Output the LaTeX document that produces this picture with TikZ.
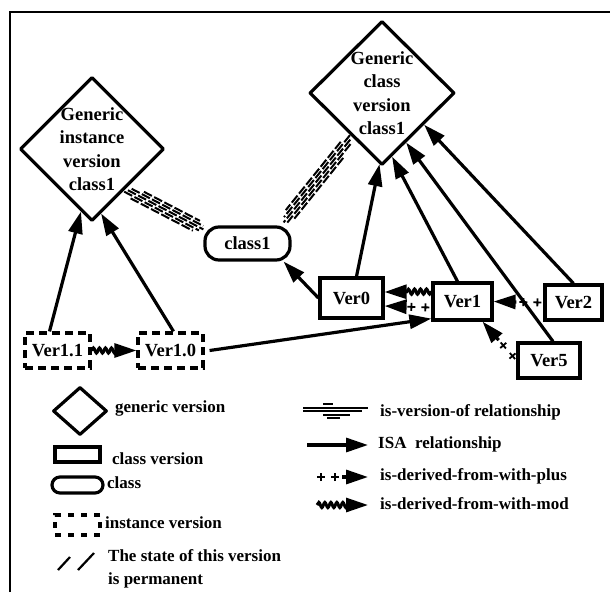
\documentclass[tikz,border=0pt]{standalone}
\usepackage{fontspec}
\setmainfont{Liberation Serif}
\usetikzlibrary{shapes.geometric,arrows.meta,calc,decorations.pathmorphing,decorations.markings}

% striped "is-version-of" band between two points
\newcommand\versionband[2]{%
  \foreach \off/\s/\e in {-6/0.1/0.9, -3/0.0/0.96, 0/0.03/1.0, 3/0.06/0.98, 6/0.2/0.92}{%
    \draw[bandline] ($($(#1)!\s!(#2)$)!\off pt!90:(#2)$) -- ($($(#1)!\e!(#2)$)!\off pt!-90:(#1)$);}}

% "+ +" derivation arrow: two plus marks near the source, a head at the target
\newcommand\plusderived[2]{%
  \path[plusmarks] (#1) -- (#2);
  \draw[isa, shorten <=27pt] (#1) -- (#2);}

\begin{document}
\begin{tikzpicture}[x=1pt,y=-1pt,
  nodetext/.style={font=\fontsize{18.5}{23.5}\selectfont\bfseries},
  legtext/.style={font=\fontsize{17}{23}\selectfont\bfseries, anchor=west, inner sep=0pt, align=left},
  gendiamond/.style={draw, shape=diamond, line width=3.2pt, line join=round, inner sep=0pt,
    minimum width=144pt, minimum height=144pt},
  classver/.style={draw, rectangle, line width=3.2pt, inner sep=0pt, nodetext},
  instver/.style={draw, rectangle, line width=3.2pt, dash pattern=on 8pt off 5pt, inner sep=0pt, nodetext},
  classbox/.style={draw, rectangle, rounded corners=14pt, line width=3.2pt, inner sep=0pt, nodetext},
  bigtip/.style={-{Triangle[length=22pt,width=14pt]}},
  isa/.style={line width=3.2pt, bigtip},
  modarrow/.style={line width=3pt, bigtip, decorate,
    decoration={snake, amplitude=2.6pt, segment length=6pt, post length=20pt}},
  plusmark/.style={line width=1.8pt},
  plusmarks/.style={postaction=decorate, decoration={markings,
    mark=at position 6pt with {\draw[plusmark] (-4pt,0pt) -- (4pt,0pt) (0pt,-4pt) -- (0pt,4pt);},
    mark=at position 20pt with {\draw[plusmark] (-4pt,0pt) -- (4pt,0pt) (0pt,-4pt) -- (0pt,4pt);}}},
  bandline/.style={line width=2pt, dash pattern=on 9pt off 2.5pt}
]
\path[use as bounding box] (0,0) rectangle (610,592);

% frame
\draw[line width=2.4pt] (10,592) -- (10,12) -- (610,12);

% generic versions
\node[gendiamond, label={[nodetext, align=center]center:{Generic\\instance\\version\\class1}}] (gi) at (92,149) {};
\node[gendiamond, minimum width=145pt, label={[nodetext, align=center]center:{Generic\\class\\version\\class1}}] (gc) at (382,93) {};

% class
\node[classbox, minimum width=85pt, minimum height=33pt] (c1) at (247.5,243.5) {class1};

% class versions
\node[classver, minimum width=63pt, minimum height=40pt] (v0) at (351.5,298) {Ver0};
\node[classver, minimum width=59pt, minimum height=37pt] (v1) at (462.5,301.5) {Ver1};
\node[classver, minimum width=57pt, minimum height=35pt] (v2) at (573.5,302.5) {Ver2};
\node[classver, minimum width=62pt, minimum height=35pt] (v5) at (549,360.5) {Ver5};

% instance versions
\node[instver, minimum width=65pt, minimum height=35pt] (v11) at (57.5,350.5) {Ver1.1};
\node[instver, minimum width=65pt, minimum height=35pt] (v10) at (170.5,350.5) {Ver1.0};

% is-version-of
\versionband{gi.-50}{[yshift=-4pt]c1.north west}
\versionband{gc.-124}{[xshift=-8pt,yshift=3pt]c1.north east}

% ISA
\draw[isa] ([xshift=-8pt]v11.north) -- (gi.-100);
\draw[isa] ([xshift=3pt]v10.north) -- (gi.-82);
\draw[isa] (v0.west) -- ([xshift=-8pt]c1.south east);
\draw[isa] ([xshift=5pt]v0.north) -- (gc.-92);
\draw[isa] ([xshift=-5pt]v1.north) -- (gc.-81);
\draw[isa] ([xshift=4pt]v5.north) -- (gc.-64);
\draw[isa] (v2.north) -- (gc.-37);
\draw[isa] ([xshift=5pt]v10.east) -- ([yshift=3pt]v1.south west);

% is-derived-from-with-mod
\draw[modarrow] (v11.east) -- (v10.west);
\draw[modarrow] ([yshift=10pt]v1.west) -- ([yshift=6pt]v0.east);

% is-derived-from-with-plus
\plusderived{[yshift=-6pt]v1.west}{[yshift=-8pt]v0.east}
\plusderived{v2.west}{v1.east}
\plusderived{v5.west}{[xshift=20pt]v1.south}

% legend: node kinds
\node[draw, shape=diamond, line width=3.2pt, line join=round, inner sep=0pt,
  minimum width=54pt, minimum height=48pt] (lgd) at (80,411) {};
\node[legtext] (lgdt) at (115,408) {generic version};
\node[draw, rectangle, line width=3.2pt, minimum width=45pt, minimum height=15pt, inner sep=0pt] (lcv) at (77.5,454.5) {};
\node[legtext] (lcvt) at (112,459) {class version};
\node[draw, rectangle, rounded corners=8pt, line width=3.2pt, minimum width=51pt, minimum height=16pt, inner sep=0pt] (lcl) at (77.5,485) {};
\node[legtext] (lclt) at (107,483) {class};
\node[draw, rectangle, line width=3.2pt, dash pattern=on 6pt off 7pt, minimum width=45pt, minimum height=20pt, inner sep=0pt] (liv) at (77.5,525) {};
\node[legtext] (livt) at (105,523) {instance version};
\coordinate (ls1a) at (58,570); \coordinate (ls1b) at (70,557);
\coordinate (ls2a) at (78,570); \coordinate (ls2b) at (94,553);
\draw[line width=2.2pt] (ls1a) -- (ls1b) (ls2a) -- (ls2b);
\node[legtext] (lst) at (108,569) {The state of this version\\is permanent};

% legend: relationships
\coordinate (lv1) at (303,410); \coordinate (lv2) at (368,410);
\foreach \dy/\sa/\sb in {-6/20/-35, -2.5/0/0, 1/0/-6, 4.5/20/-18, 8/24/-28}
  \draw[line width=2pt] ([shift={(\sa,\dy)}]lv1) -- ([shift={(\sb,\dy)}]lv2);
\node[legtext] (lvt) at (380,412) {is-version-of relationship};

\coordinate (li1) at (307,445); \coordinate (li2) at (368,445);
\draw[isa] (li1) -- (li2);
\node[legtext] (lit) at (378,444) {ISA\ \ relationship};

\coordinate (lp1) at (315,477); \coordinate (lp2) at (368,477);
\plusderived{lp1}{lp2}
\node[legtext] (lpt) at (380,476) {is-derived-from-with-plus};

\coordinate (lm1) at (317,505); \coordinate (lm2) at (368,505);
\draw[modarrow] (lm1) -- (lm2);
\node[legtext] (lmt) at (380,504) {is-derived-from-with-mod};
\end{tikzpicture}
\end{document}
